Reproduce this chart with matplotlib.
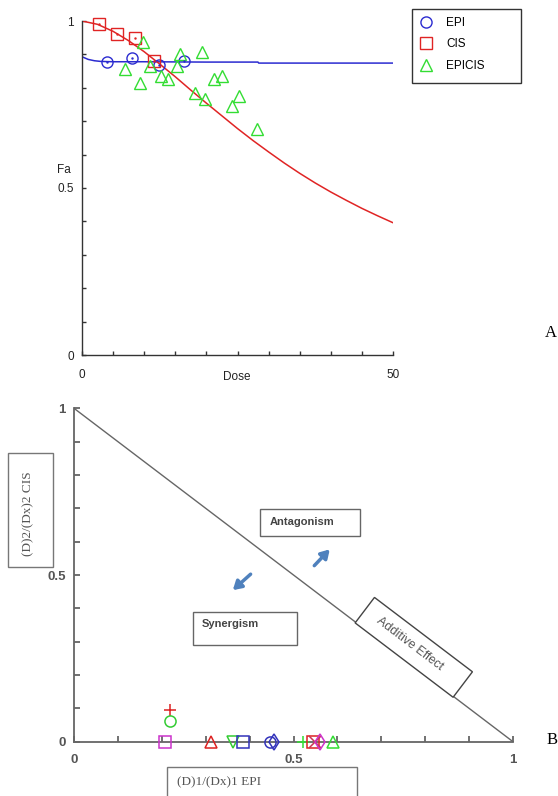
import matplotlib
matplotlib.use("Agg")
import matplotlib.pyplot as plt
import matplotlib.transforms as mtransforms
from matplotlib.patches import Rectangle
from matplotlib.lines import Line2D

# ---------------- Panel A data ----------------
epi_dose = [4.0, 8.1, 12.4, 16.4]
epi_fa = [0.878, 0.888, 0.868, 0.880]
cis_dose = [2.8, 5.7, 8.6, 11.6]
cis_fa = [0.990, 0.962, 0.948, 0.880]
epicis_dose = [9.8, 6.9, 9.4, 10.9, 12.7, 13.9, 15.7, 15.3, 19.3, 18.2, 19.8, 21.2, 22.5, 24.1, 25.3, 28.2]
epicis_fa = [0.936, 0.855, 0.815, 0.865, 0.835, 0.825, 0.900, 0.865, 0.908, 0.785, 0.766, 0.826, 0.835, 0.745, 0.775, 0.676]

# fitted curves
cis_curve_dose = [0, 2.5, 5, 7.5, 10, 12.5, 15, 17.5, 20, 22.5, 25, 27.5, 30, 32.5, 35, 37.5, 40, 42.5, 45, 47.5, 50]
cis_curve_fa = [1.0, 0.990, 0.969, 0.941, 0.908, 0.871, 0.833, 0.793, 0.754, 0.716, 0.678, 0.642,
                0.608, 0.575, 0.544, 0.515, 0.488, 0.463, 0.439, 0.417, 0.396]
epi_curve_dose = [0, 0.5, 1, 2, 3, 5, 10, 20, 28.3, 28.4, 40, 50]
epi_curve_fa = [0.893, 0.889, 0.885, 0.881, 0.879, 0.878, 0.878, 0.877, 0.877, 0.874, 0.874, 0.874]

# ---------------- Panel B data ----------------
b_x = [0.219, 0.219, 0.208, 0.313, 0.362, 0.384, 0.447, 0.455, 0.522, 0.545, 0.548, 0.560, 0.590]
b_y = [0.095, 0.063, 0.0, 0.0, 0.0, 0.0, 0.0, 0.0, 0.0, 0.0, 0.0, 0.0, 0.0]
b_marker = ['+', 'o', 's', '^', 'v', 's', 'o', 'd', '+', 's', 'x', 'd', '^']
b_color = ['#dd2222', '#33cc33', '#cc33cc', '#dd2222', '#33cc33', '#3333bb', '#3333bb', '#3333bb',
           '#33dd33', '#dd2222', '#cc3355', '#cc33cc', '#33dd33']

W, H = 558, 796
fig = plt.figure(figsize=(W / 100, H / 100), dpi=100)
plt.rcParams['font.family'] = ['Liberation Sans', 'DejaVu Sans']

def fx(px):
    return px / W

def fy(py):
    return 1 - py / H

BLUE = '#2b2bd0'
RED = '#e02424'
GREEN = '#33dd33'

# ---------------- Panel A ----------------
axA = fig.add_axes([fx(82), fy(355), fx(393) - fx(82), fy(21) - fy(355)])
axA.plot(epi_curve_dose, epi_curve_fa, color=BLUE, lw=1.1, zorder=2)
axA.plot(cis_curve_dose, cis_curve_fa, color=RED, lw=1.1, zorder=2)
axA.plot(epi_dose, epi_fa, 'o', mfc='none', mec=BLUE, ms=8, mew=1.0, zorder=3, clip_on=False)
axA.plot(cis_dose, cis_fa, 's', mfc='none', mec=RED, ms=8, mew=1.0, zorder=3, clip_on=False)
axA.plot(epicis_dose, epicis_fa, '^', mfc='none', mec=GREEN, ms=9, mew=1.0, zorder=3, clip_on=False)
axA.plot(epi_dose, epi_fa, '.', color=BLUE, ms=1.5, zorder=4, clip_on=False)
axA.plot(cis_dose, cis_fa, '.', color=RED, ms=1.5, zorder=4, clip_on=False)
axA.set_xlim(0, 50)
axA.set_ylim(0, 1)
for s in ['top', 'right']:
    axA.spines[s].set_visible(False)
for s in ['left', 'bottom']:
    axA.spines[s].set_color('#333333')
    axA.spines[s].set_linewidth(1.0)
axA.set_xticks([0, 50])
axA.set_xticklabels(['0', '50'])
axA.set_xticks([5, 10, 15, 20, 25, 30, 35, 40, 45], minor=True)
axA.set_yticks([0, 0.5, 1])
axA.set_yticklabels(['0', '0.5', '1'])
axA.set_yticks([0.1, 0.2, 0.3, 0.4, 0.6, 0.7, 0.8, 0.9], minor=True)
axA.tick_params(which='both', direction='in', length=3, width=1, color='#333333',
                labelsize=8.5, labelcolor='#222222', pad=6)
axA.tick_params(axis='x', which='both', pad=10)
fig.text(fx(237), fy(377), 'Dose', fontsize=8.5, color='#222222', ha='center', va='center')
fig.text(fx(64), fy(170), 'Fa', fontsize=8.5, color='#222222', ha='center', va='center')

handles = [Line2D([], [], ls='none', marker='o', mfc='none', mec=BLUE, ms=8),
           Line2D([], [], ls='none', marker='s', mfc='none', mec=RED, ms=8),
           Line2D([], [], ls='none', marker='^', mfc='none', mec=GREEN, ms=9)]
leg = fig.legend(handles, ['EPI', 'CIS', 'EPICIS'], loc='upper left',
                 bbox_to_anchor=(fx(419), fy(17)), fontsize=8.5, frameon=False,
                 borderpad=0, labelspacing=0.8, handletextpad=1.1,
                 handlelength=1.2, borderaxespad=0)
fig.patches.append(Rectangle((fx(412.3), fy(83.3)), fx(520.7) - fx(412.3), fy(9) - fy(83.3),
                             transform=fig.transFigure, fill=False, ec='#333333', lw=1.0))

fig.text(fx(551), fy(333), 'A', fontsize=12, family='Liberation Serif', ha='center', va='center')

# ---------------- Panel B ----------------
GRAY = '#666666'
axB = fig.add_axes([fx(74), fy(741.7), fx(513) - fx(74), fy(408.3) - fy(741.7)])
axB.plot([0, 1], [1, 0], color=GRAY, lw=1.0, zorder=1)
for x, y, m, c in zip(b_x, b_y, b_marker, b_color):
    axB.plot([x], [y], ls='none', marker=m, mfc='none', mec=c, ms=8, mew=1.1, zorder=4, clip_on=False)
axB.set_xlim(0, 1)
axB.set_ylim(0, 1)
for s in ['top', 'right']:
    axB.spines[s].set_visible(False)
for s in ['left', 'bottom']:
    axB.spines[s].set_color(GRAY)
    axB.spines[s].set_linewidth(1.3)
axB.set_xticks([0, 0.5, 1])
axB.set_xticklabels(['0', '0.5', '1'])
axB.set_xticks([0.1, 0.2, 0.3, 0.4, 0.6, 0.7, 0.8, 0.9], minor=True)
axB.set_yticks([0, 0.5, 1])
axB.set_yticklabels(['0', '0.5', '1'])
axB.set_yticks([0.1, 0.2, 0.3, 0.4, 0.6, 0.7, 0.8, 0.9], minor=True)
axB.tick_params(which='both', direction='in', length=4, width=1.3, color=GRAY,
                labelsize=9.5, labelcolor='#555555', pad=6)
axB.tick_params(axis='x', which='both', pad=9)
for lab in axB.get_xticklabels() + axB.get_yticklabels():
    lab.set_fontweight('bold')

# region boxes
axB.add_patch(Rectangle((0.424, 0.617), 0.228, 0.081, fill=True, fc='white', ec=GRAY, lw=1.0, zorder=3))
axB.text(0.445, 0.658, 'Antagonism', fontsize=8, fontweight='bold', color='#444444',
         ha='left', va='center', zorder=4)
axB.add_patch(Rectangle((0.270, 0.290), 0.237, 0.100, fill=True, fc='white', ec=GRAY, lw=1.0, zorder=3))
axB.text(0.291, 0.352, 'Synergism', fontsize=8, fontweight='bold', color='#444444',
         ha='left', va='center', zorder=4)

# arrows
ARROW = '#4f81bd'
axB.annotate('', xy=(0.587, 0.583), xytext=(0.543, 0.522),
             arrowprops=dict(arrowstyle='-|>,head_length=0.5,head_width=0.3', color=ARROW, lw=2.5))
axB.annotate('', xy=(0.357, 0.449), xytext=(0.407, 0.508),
             arrowprops=dict(arrowstyle='-|>,head_length=0.5,head_width=0.3', color=ARROW, lw=2.5))

# rotated "Additive Effect" box sitting on the diagonal
ang = -37.2
cx, cy = 0.774, 0.283
wpt, hpt = 123 * 0.72, 32 * 0.72
tr = (mtransforms.Affine2D().scale(fig.dpi / 72.0).rotate_deg(ang)
      + mtransforms.ScaledTranslation(cx, cy, axB.transData))
axB.add_patch(Rectangle((-wpt / 2, -hpt / 2), wpt, hpt, transform=tr, fc='white', ec='#444444',
                        lw=1.0, zorder=3, clip_on=False))
axB.text(cx - 0.01, cy + 0.01, 'Additive Effect', rotation=ang, rotation_mode='anchor', ha='center',
         va='center', fontsize=9, color='#555555', zorder=4)

# axis label boxes
fig.patches.append(Rectangle((fx(8.3), fy(566.7)), fx(53.3) - fx(8.3), fy(453.3) - fy(566.7),
                             transform=fig.transFigure, fill=False, ec='#777777', lw=1.0))
fig.text(fx(28.5), fy(514), '(D)2/(Dx)2 CIS', rotation=90, fontsize=9.5, family='Liberation Serif',
         color='#555555', ha='center', va='center')
fig.patches.append(Rectangle((fx(166.7), fy(805)), fx(356.7) - fx(166.7), fy(766.7) - fy(805),
                             transform=fig.transFigure, fill=False, ec='#777777', lw=1.0))
fig.text(fx(176.7), fy(782), '(D)1/(Dx)1 EPI', fontsize=9.5, family='Liberation Serif',
         color='#555555', ha='left', va='center')

fig.text(fx(552), fy(740), 'B', fontsize=12, family='Liberation Serif', ha='center', va='center')

fig.savefig('out.png', dpi=100)
